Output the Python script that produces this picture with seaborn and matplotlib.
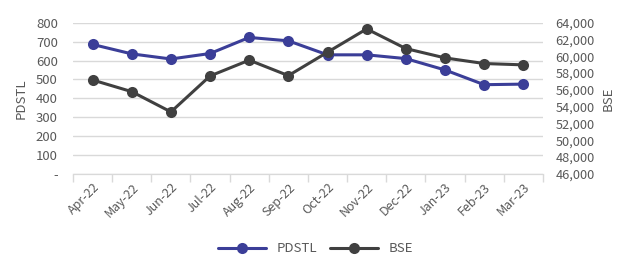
#!/usr/bin/env python

import matplotlib
matplotlib.use('Agg')
import matplotlib.pyplot as plt
import matplotlib.ticker as mticker
import pandas as pd
import seaborn as sns

months = ['Apr-22', 'May-22', 'Jun-22', 'Jul-22', 'Aug-22', 'Sep-22',
          'Oct-22', 'Nov-22', 'Dec-22', 'Jan-23', 'Feb-23', 'Mar-23']
# values
pdstl = [685, 635, 608, 637, 722, 704, 630, 630, 610, 550, 472, 475]
bse = [57180, 55790, 53380, 57660, 59540, 57700, 60490, 63260, 60920,
       59810, 59140, 58980]

BLUE = '#3b3e98'
GREY = '#404040'
TEXT = '#595959'
GRID = '#d9d9d9'


def fmt_left(v, pos):
    if abs(v) < 1e-9:
        return '-'
    return '{:,.0f}'.format(v)


def main():
    sns.set_style('white')
    plt.rcParams['font.family'] = ['Noto Sans CJK JP', 'DejaVu Sans']
    plt.rcParams['font.size'] = 9

    df = pd.DataFrame({'month': months, 'PDSTL': pdstl, 'BSE': bse})

    fig = plt.figure(figsize=(6.19, 2.58), dpi=100)
    ax = fig.add_axes([0.118, 0.326, 0.759, 0.586])
    ax2 = ax.twinx()

    sns.lineplot(data=df, x='month', y='PDSTL', ax=ax, color=BLUE, lw=2.2,
                 marker='o', markersize=8, markeredgewidth=0, sort=False,
                 label='PDSTL', legend=False)
    sns.lineplot(data=df, x='month', y='BSE', ax=ax2, color=GREY, lw=2.2,
                 marker='o', markersize=8, markeredgewidth=0, sort=False,
                 label='BSE', legend=False)

    ax.set_xlim(-0.5, len(months) - 0.5)
    ax.set_ylim(0, 800)
    ax2.set_ylim(46000, 64000)
    ax.yaxis.set_major_locator(mticker.MultipleLocator(100))
    ax.yaxis.set_major_formatter(mticker.FuncFormatter(fmt_left))
    ax2.yaxis.set_major_locator(mticker.MultipleLocator(2000))
    ax2.yaxis.set_major_formatter(mticker.StrMethodFormatter('{x:,.0f}'))

    ax.grid(axis='y', color=GRID, lw=1)
    ax.set_axisbelow(True)
    for a in (ax, ax2):
        for side in ('top', 'left', 'right'):
            a.spines[side].set_visible(False)
        a.spines['bottom'].set_color(GRID)
        a.tick_params(axis='y', length=0, colors=TEXT, labelsize=9.5)
    ax.tick_params(axis='y', pad=11)
    ax2.tick_params(axis='y', pad=9, labelsize=9.2)

    # category ticks at the boundaries, labels centred
    ax.set_xticks([i - 0.5 for i in range(len(months) + 1)], minor=False)
    ax.set_xticklabels([])
    ax.tick_params(axis='x', which='major', bottom=True, length=6,
                   color=GRID, width=1, direction='out')
    ax.set_xticks(range(len(months)), minor=True)
    ax.set_xticklabels(months, minor=True, rotation=45, ha='right',
                       rotation_mode='anchor', color=TEXT, fontsize=9)
    ax.tick_params(axis='x', which='minor', bottom=True, length=0, pad=5)

    ax.set_xlabel('')
    ax.set_ylabel('PDSTL', color=TEXT, fontsize=9.5, labelpad=6)
    ax2.set_ylabel('BSE', color=TEXT, fontsize=9.5, labelpad=5)

    h1, l1 = ax.get_legend_handles_labels()
    h2, l2 = ax2.get_legend_handles_labels()
    fig.legend(h1 + h2, l1 + l2, loc='center', bbox_to_anchor=(0.51, 0.035),
               ncol=2, frameon=False, handlelength=3.6, columnspacing=1.0,
               handletextpad=0.8, labelcolor=TEXT, fontsize=9.5)

    fig.savefig('out.png', dpi=100)


if __name__ == '__main__':
    main()
